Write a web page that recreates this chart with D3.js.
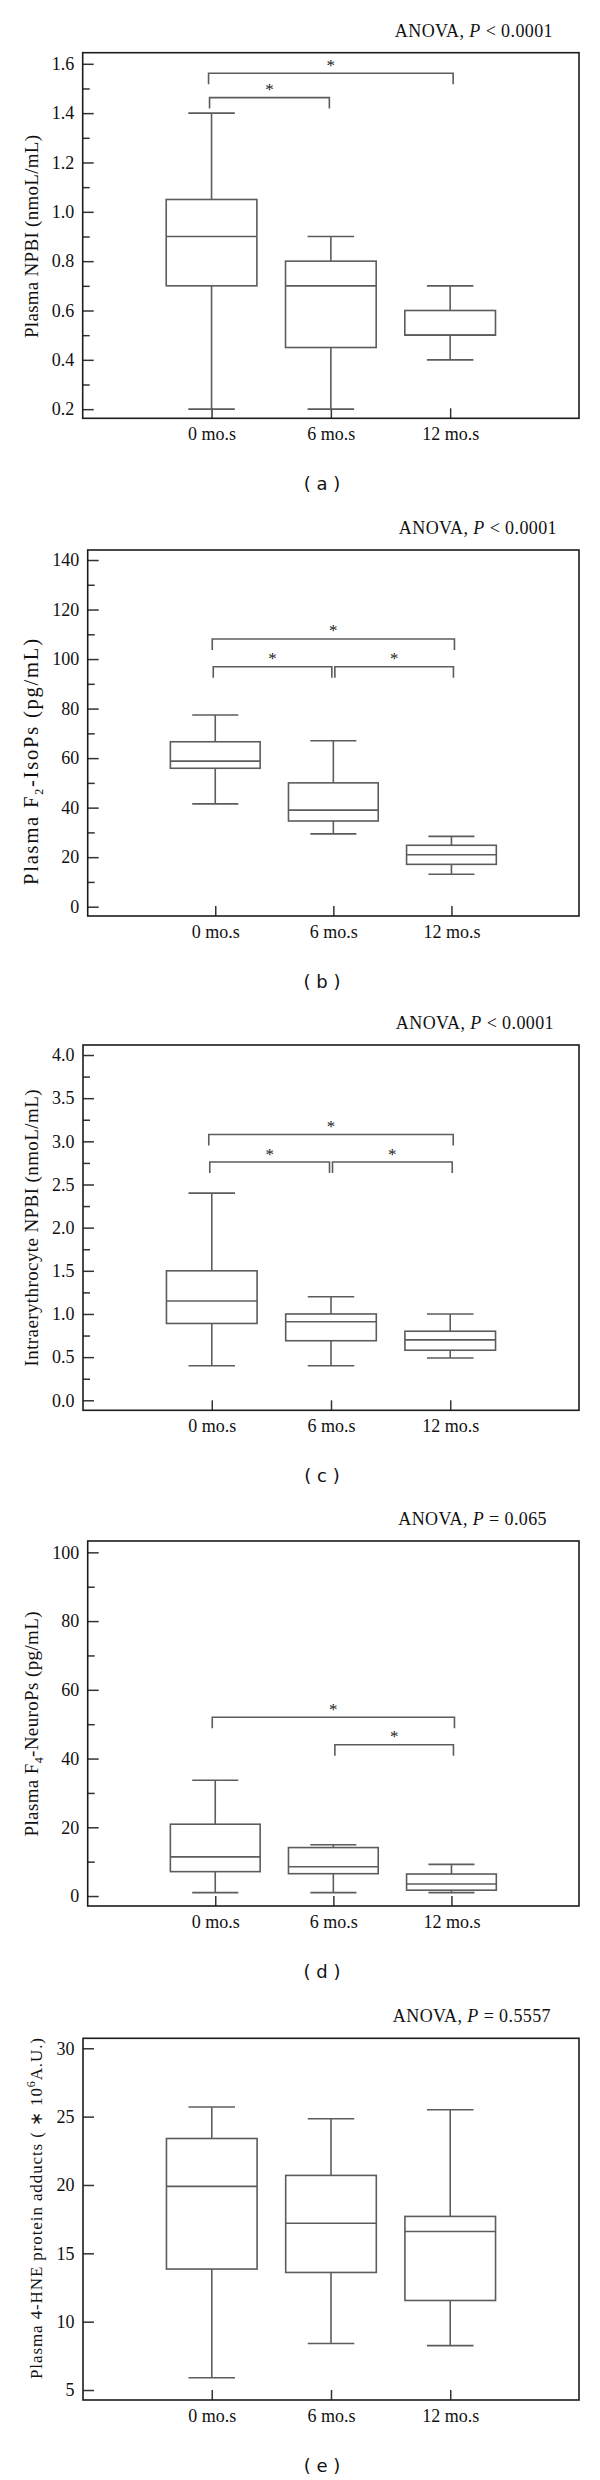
<!DOCTYPE html>
<html><head><meta charset="utf-8">
<script src="https://cdn.jsdelivr.net/npm/d3@7"></script>
<style>body{margin:0;background:#fff} text{white-space:pre}</style>
</head><body>
<svg id="c" width="600" height="2480" xmlns="http://www.w3.org/2000/svg"></svg>
<script>
// ---------- data ----------
const categories = ["0 mo.s", "6 mo.s", "12 mo.s"];
const panelLabels = ["( a )", "( b )", "( c )", "( d )", "( e )"];
const anovaP = ["< 0.0001", "< 0.0001", "< 0.0001", "= 0.065", "= 0.5557"];

// box stats per category: [min, q1, median, q3, max]
const plasmaNPBI   = [[0.2, 0.70, 0.90, 1.05, 1.40], [0.2, 0.45, 0.70, 0.80, 0.90], [0.40, 0.50, 0.50, 0.60, 0.70]];
const plasmaF2Iso  = [[41.5, 55.9, 58.8, 66.6, 77.4], [29.4, 34.6, 39.0, 50.0, 67.0], [13.1, 17.1, 21.0, 24.8, 28.4]];
const erythroNPBI  = [[0.40, 0.89, 1.15, 1.50, 2.40], [0.40, 0.69, 0.91, 1.00, 1.20], [0.49, 0.58, 0.70, 0.80, 1.00]];
const plasmaF4Neuro= [[1.0, 7.1, 11.4, 20.9, 33.7], [1.0, 6.5, 8.5, 14.1, 14.9], [1.0, 1.7, 3.5, 6.4, 9.2]];
const plasmaHNE    = [[5.9, 13.85, 19.9, 23.4, 25.7], [8.4, 13.6, 17.2, 20.7, 24.85], [8.25, 11.55, 16.6, 17.7, 25.5]];

// significance brackets: [fromIndex, toIndex, level]
const sigA = [[0, 2, 1.562], [0, 1, 1.463]];
const sigB = [[0, 2, 108.1], [0, 1, 96.9], [1, 2, 96.9]];
const sigC = [[0, 2, 3.08], [0, 1, 2.76], [1, 2, 2.76]];
const sigD = [[0, 2, 52], [1, 2, 44]];
const sigE = [];

// tick labels
const ticksA = [0.2, 0.4, 0.6, 0.8, 1.0, 1.2, 1.4, 1.6];
const minorA = [0.3, 0.5, 0.7, 0.9, 1.1, 1.3, 1.5];
const ticksB = [0, 20, 40, 60, 80, 100, 120, 140];
const minorB = [10, 30, 50, 70, 90, 110, 130];
const ticksC = [0.0, 0.5, 1.0, 1.5, 2.0, 2.5, 3.0, 3.5, 4.0];
const minorC = [0.25, 0.75, 1.25, 1.75, 2.25, 2.75, 3.25, 3.75];
const ticksD = [0, 20, 40, 60, 80, 100];
const minorD = [10, 30, 50, 70, 90];
const ticksE = [5, 10, 15, 20, 25, 30];
const minorE = [];

// ---------- layout ----------
const panels = [
  {data: plasmaNPBI, sig: sigA, ticks: ticksA, minor: minorA, fmt: d3.format(".1f"), domain: [0.163, 1.645],
   top: 52.7, bottom: 418.3, left: 82.7, anovaX: 553, titleX: 37.5, titleY: 236.5, titleSize: 19, titleLen: 203,
   title: [["Plasma NPBI (nmoL/mL)", 0]]},
  {data: plasmaF2Iso, sig: sigB, ticks: ticksB, minor: minorB, fmt: d3.format("d"), domain: [-3.76, 144.04],
   top: 550, bottom: 916, left: 87.7, anovaX: 557, titleX: 37.5, titleY: 762, titleSize: 20.5, titleLen: 246,
   title: [["Plasma F", 0], ["2", 1], ["-IsoPs (pg/mL)", 0]]},
  {data: erythroNPBI, sig: sigC, ticks: ticksC, minor: minorC, fmt: d3.format(".1f"), domain: [-0.116, 4.116],
   top: 1045, bottom: 1410.3, left: 83, anovaX: 554, titleX: 37.5, titleY: 1228, titleSize: 19, titleLen: 277,
   title: [["Intraerythrocyte NPBI (nmoL/mL)", 0]]},
  {data: plasmaF4Neuro, sig: sigD, ticks: ticksD, minor: minorD, fmt: d3.format("d"), domain: [-2.9, 103.3],
   top: 1541, bottom: 1906, left: 87.7, anovaX: 547, titleX: 37.5, titleY: 1724, titleSize: 19, titleLen: 225,
   title: [["Plasma F", 0], ["4", 1], ["-NeuroPs (pg/mL)", 0]]},
  {data: plasmaHNE, sig: sigE, ticks: ticksE, minor: minorE, fmt: d3.format("d"), domain: [4.27, 30.73],
   top: 2038.3, bottom: 2400, left: 83, anovaX: 551, titleX: 41.5, titleY: 2208.5, titleSize: 17, titleLen: 341,
   title: [["Plasma 4-HNE protein adducts ( \u2217 10", 0], ["6", -1], ["A.U.)", 0]]}
];

const RIGHT = 579;
const SERIF = "'Liberation Serif', 'Times New Roman', serif";
const BOXC = "#5c5c5c";
const FRAMEC = "#1c1c1c";
const svg = d3.select("#c");

panels.forEach((p, k) => {
  const g = svg.append("g");
  const x = d3.scaleLinear().domain([-0.08, 4.08]).range([p.left, RIGHT]);
  const y = d3.scaleLinear().domain(p.domain).range([p.bottom, p.top]);

  // minor ticks
  if (p.minor.length) {
    const mg = g.append("g").attr("transform", `translate(${p.left},0)`)
      .call(d3.axisLeft(y).tickValues(p.minor).tickSize(-7).tickFormat(""));
    mg.select(".domain").remove();
    mg.selectAll("line").attr("stroke", "#333").attr("stroke-width", 1.5);
  }
  // major ticks + labels
  const ag = g.append("g").attr("transform", `translate(${p.left},0)`)
    .call(d3.axisLeft(y).tickValues(p.ticks).tickSize(-11).tickPadding(8.5).tickFormat(p.fmt));
  ag.select(".domain").remove();
  ag.selectAll("line").attr("stroke", "#333").attr("stroke-width", 1.5);
  ag.selectAll("text").attr("font-family", SERIF).attr("font-size", 18).attr("fill", "#111");

  // x axis
  const xg = g.append("g").attr("transform", `translate(0,${p.bottom})`)
    .call(d3.axisBottom(x).tickValues([1, 2, 3]).tickSize(-10).tickPadding(9)
      .tickFormat(i => categories[i - 1]));
  xg.select(".domain").remove();
  xg.selectAll("line").attr("stroke", "#333").attr("stroke-width", 1.5);
  xg.selectAll("text").attr("font-family", SERIF).attr("font-size", 18).attr("fill", "#111");

  // frame
  g.append("rect").attr("x", p.left).attr("y", p.top)
    .attr("width", RIGHT - p.left).attr("height", p.bottom - p.top)
    .attr("fill", "none").attr("stroke", FRAMEC).attr("stroke-width", 1.6);

  // boxes
  const bw = 0.38, cw = 0.195;
  p.data.forEach((s, i) => {
    const c = i + 1;
    const [mn, q1, md, q3, mx] = s;
    const bg = g.append("g").attr("stroke", BOXC).attr("stroke-width", 1.6).attr("fill", "none");
    bg.append("line").attr("x1", x(c)).attr("x2", x(c)).attr("y1", y(mx)).attr("y2", y(q3));
    bg.append("line").attr("x1", x(c)).attr("x2", x(c)).attr("y1", y(q1)).attr("y2", y(mn));
    bg.append("line").attr("x1", x(c - cw)).attr("x2", x(c + cw)).attr("y1", y(mx)).attr("y2", y(mx));
    bg.append("line").attr("x1", x(c - cw)).attr("x2", x(c + cw)).attr("y1", y(mn)).attr("y2", y(mn));
    bg.append("rect").attr("x", x(c - bw)).attr("y", y(q3))
      .attr("width", x(c + bw) - x(c - bw)).attr("height", y(q1) - y(q3));
    bg.append("line").attr("x1", x(c - bw)).attr("x2", x(c + bw)).attr("y1", y(md)).attr("y2", y(md));
  });

  // significance brackets
  p.sig.forEach(([a, b, lv]) => {
    const wide = (b - a) === 2;
    const x1 = x(a + 1) + (wide ? -3 : (a === 1 ? 1.5 : -2));
    const x2 = x(b + 1) + (wide ? 3 : (b === 1 ? -1.5 : 2));
    const yl = y(lv);
    g.append("path").attr("d", `M${x1},${yl + 11}V${yl}H${x2}V${yl + 11}`)
      .attr("fill", "none").attr("stroke", BOXC).attr("stroke-width", 1.6);
    g.append("text").attr("x", (x1 + x2) / 2).attr("y", yl - 11 + 8.5)
      .attr("text-anchor", "middle").attr("font-family", SERIF).attr("font-size", 17)
      .attr("fill", "#222").text("*");
  });

  // ANOVA text
  const at = g.append("text").attr("x", p.anovaX).attr("y", p.top - 16)
    .attr("text-anchor", "end").attr("font-family", SERIF).attr("font-size", 18)
    .attr("letter-spacing", 0.4).attr("fill", "#111");
  at.append("tspan").text("ANOVA, ");
  at.append("tspan").attr("font-style", "italic").text("P");
  at.append("tspan").text(" " + anovaP[k]);

  // y title
  const tt = g.append("text")
    .attr("transform", `translate(${p.titleX},${p.titleY}) rotate(-90)`)
    .attr("text-anchor", "middle").attr("font-family", SERIF).attr("font-size", p.titleSize)
    .attr("textLength", p.titleLen).attr("lengthAdjust", "spacing")
    .attr("fill", "#111");
  let shift = 0;
  p.title.forEach(([t, s]) => {
    const ts = tt.append("tspan").text(t);
    const target = s === 1 ? 5 : (s === -1 ? -7 : 0);
    ts.attr("dy", target - shift);
    if (s !== 0) ts.attr("font-size", 12);
    shift = target;
  });

  // panel caption
  g.append("text").attr("x", 322).attr("y", p.bottom + 72)
    .attr("text-anchor", "middle").attr("font-family", "'DejaVu Sans', Verdana, sans-serif")
    .attr("font-size", 18).attr("fill", "#111").text(panelLabels[k]);
});
</script>
</body></html>
